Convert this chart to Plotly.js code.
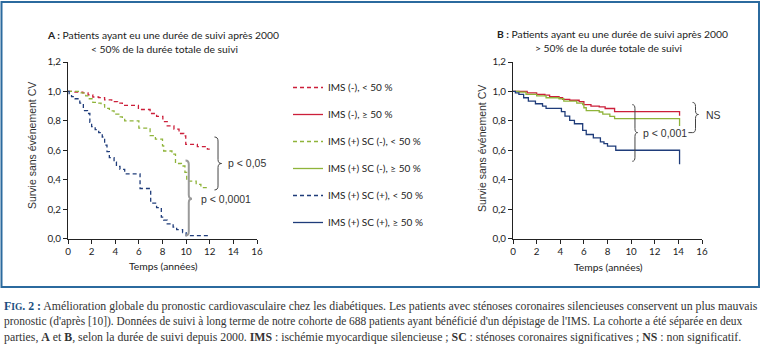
<!DOCTYPE html>
<html>
<head>
<meta charset="utf-8">
<script src="https://cdn.plot.ly/plotly-3.0.1.min.js"></script>
<style>html,body{margin:0;padding:0;background:#fff}#chart{width:762px;height:353px}</style>
</head>
<body>
<div id="chart"></div>
<script>
// ---------- DATA ----------
const seriesNames = ["IMS (-), < 50 %", "IMS (-), ≥ 50 %", "IMS (+) SC (-), < 50 %", "IMS (+) SC (-), ≥ 50 %", "IMS (+) SC (+), < 50 %", "IMS (+) SC (+), ≥ 50 %"];
const xTicks = [0, 2, 4, 6, 8, 10, 12, 14, 16];
const yTicks = [0, 0.2, 0.4, 0.6, 0.8, 1.0, 1.2];

// Panel A (< 50 %)
const redA_t = [0, 0.5, 1.25, 1.7, 2.1, 2.6, 3.1, 3.7, 4.2, 4.6, 5.96, 6.95, 7.5, 8.03, 8.4, 8.97, 9.4, 9.8, 9.97, 10.95, 11.8, 12.0];
const redA_s = [1.0, 0.995, 0.99, 0.977, 0.962, 0.958, 0.943, 0.93, 0.92, 0.905, 0.877, 0.85, 0.83, 0.795, 0.766, 0.743, 0.714, 0.698, 0.64, 0.625, 0.607, 0.607];
const greenA_t = [0, 0.96, 1.5, 1.7, 2.1, 2.5, 2.8, 3.1, 3.5, 3.9, 4.3, 4.6, 4.8, 6.0, 6.95, 7.4, 8.0, 8.1, 8.8, 9.1, 9.6, 9.9, 10.05, 10.85, 11.25, 12.0];
const greenA_s = [1.0, 0.99, 0.97, 0.95, 0.925, 0.92, 0.91, 0.885, 0.868, 0.845, 0.827, 0.815, 0.80, 0.75, 0.70, 0.675, 0.63, 0.595, 0.573, 0.51, 0.493, 0.45, 0.39, 0.368, 0.346, 0.346];
const blueA_t = [0, 0.1, 0.3, 0.6, 1.0, 1.3, 1.65, 1.85, 2.0, 2.3, 2.6, 2.9, 3.1, 3.3, 3.5, 3.9, 4.1, 4.4, 4.8, 6.1, 7.0, 7.5, 7.9, 8.1, 8.4, 8.9, 9.2, 9.7, 10.0, 12.0];
const blueA_s = [1.0, 0.98, 0.965, 0.95, 0.92, 0.87, 0.85, 0.79, 0.76, 0.74, 0.72, 0.69, 0.635, 0.59, 0.55, 0.52, 0.49, 0.47, 0.44, 0.34, 0.24, 0.21, 0.145, 0.125, 0.10, 0.077, 0.06, 0.04, 0.02, 0.02];

// Panel B (> 50 %)
const redB_t = [0, 1.2, 2.0, 2.7, 3.1, 3.9, 4.2, 4.8, 5.6, 6.0, 6.6, 7.3, 7.8, 8.6, 14.1, 14.1];
const redB_s = [1.0, 0.99, 0.98, 0.975, 0.965, 0.957, 0.946, 0.94, 0.93, 0.91, 0.90, 0.895, 0.884, 0.862, 0.862, 0.835];
const greenB_t = [0, 0.5, 1.1, 2.0, 2.8, 3.9, 4.3, 5.4, 5.9, 6.0, 6.2, 7.3, 7.6, 8.2, 8.6, 14.1, 14.1];
const greenB_s = [1.0, 0.995, 0.98, 0.97, 0.957, 0.95, 0.934, 0.92, 0.91, 0.889, 0.87, 0.86, 0.845, 0.83, 0.815, 0.815, 0.765];
const blueB_t = [0, 0.2, 0.5, 0.9, 1.3, 1.9, 2.5, 2.8, 4.1, 4.4, 4.8, 5.2, 5.9, 6.2, 6.8, 7.4, 7.7, 8.0, 8.7, 14.1, 14.1];
const blueB_s = [1.0, 0.99, 0.98, 0.957, 0.934, 0.916, 0.90, 0.885, 0.862, 0.832, 0.803, 0.78, 0.735, 0.707, 0.684, 0.657, 0.645, 0.628, 0.60, 0.60, 0.505];

// ---------- STYLE ----------
const RED = '#cc1f3a', GREEN = '#8fb43a', BLUE = '#1f3c7a';
const W = 762, H = 353;
const px = v => v / W;             // pixel -> paper x
const py = v => 1 - v / H;         // pixel -> paper y
const tickFont = {family: 'Lato, "Open Sans", sans-serif', size: 9.8, color: '#222'};
const sansFont = {family: '"Liberation Sans", Arial, sans-serif', size: 10.5, color: '#333'};

function tr(t, s, name, color, dash, xa, ya) {
  return {x: t, y: s, name: name, type: 'scatter', mode: 'lines',
    line: {color: color, width: 1.3, dash: dash, shape: 'hv'},
    xaxis: xa, yaxis: ya, legendgroup: name, hoverinfo: 'skip'};
}
const DASH = '4px,3px';
const data = [
  tr(redA_t, redA_s, seriesNames[0], RED, DASH, 'x', 'y'),
  tr(redB_t, redB_s, seriesNames[1], RED, 'solid', 'x2', 'y2'),
  tr(greenA_t, greenA_s, seriesNames[2], GREEN, DASH, 'x', 'y'),
  tr(greenB_t, greenB_s, seriesNames[3], GREEN, 'solid', 'x2', 'y2'),
  tr(blueA_t, blueA_s, seriesNames[4], BLUE, DASH, 'x', 'y'),
  tr(blueB_t, blueB_s, seriesNames[5], BLUE, 'solid', 'x2', 'y2')
];

function xAxis(d0, d1, anchor) {
  return {domain: [px(d0), px(d1)], range: [0, 16], tickvals: xTicks, ticks: 'outside', ticklen: 4,
    tickcolor: '#222', showline: true, linecolor: '#222', linewidth: 1, showgrid: false, zeroline: false,
    tickfont: tickFont, anchor: anchor, fixedrange: true};
}
function yAxis(anchor) {
  return {domain: [py(238.5), py(62)], range: [0, 1.2], tickvals: yTicks, tickformat: '.1f', ticks: 'outside',
    ticklen: 4, tickcolor: '#222', showline: true, linecolor: '#222', linewidth: 1, showgrid: false,
    zeroline: false, tickfont: tickFont, anchor: anchor, fixedrange: true};
}

// curly brace (pointing right) in data coordinates
const KY = 146.7; // px per y unit
function brace(xl, w, yt, yb, ym) {
  const r = 4 / KY, xm = xl + w / 2, xr = xl + w;
  return `M${xl},${yt} Q${xm},${yt} ${xm},${yt - r} L${xm},${ym + r} Q${xm},${ym} ${xr},${ym} ` +
         `Q${xm},${ym} ${xm},${ym - r} L${xm},${yb + r} Q${xm},${yb} ${xl},${yb}`;
}

const shapes = [
  {type: 'rect', xref: 'paper', yref: 'paper', x0: px(1.5), x1: px(759), y0: py(287), y1: py(2), line: {color: '#2b6a9e', width: 2}},
  {type: 'path', xref: 'x', yref: 'y', path: brace(12.4, 0.6, 0.69, 0.33, 0.51), line: {color: '#444', width: 1}},
  {type: 'path', xref: 'x', yref: 'y', path: brace(9.95, 0.55, 0.53, 0.02, 0.27), line: {color: '#9a9a9a', width: 2}},
  {type: 'path', xref: 'x2', yref: 'y2', path: brace(10.1, 0.45, 0.91, 0.525, 0.72), line: {color: '#444', width: 1}},
  {type: 'path', xref: 'x2', yref: 'y2', path: brace(15.2, 0.5, 0.925, 0.72, 0.843), line: {color: '#444', width: 1}},
  {type: 'line', xref: 'x2', yref: 'y2', x0: 14.85, x1: 15.2, y0: 0.72, y1: 0.72, line: {color: '#444', width: 1}}
];

const titleFont = {family: 'Lato, "Open Sans", sans-serif', size: 10.3, color: '#222'};
const capFont = {family: '"Liberation Serif", "Times New Roman", serif', size: 11.8, color: '#333'};
const capFont2 = Object.assign({}, capFont, {size: 11.45});
function ann(text, x, y, font, opts) {
  return Object.assign({text: text, x: x, y: y, xref: 'paper', yref: 'paper', showarrow: false, font: font,
    xanchor: 'center', yanchor: 'middle'}, opts || {});
}
const FIG = "<span style='color:#1b4f7e'><b>F<span style='font-size:9.5px'>IG</span>. 2 :</b></span>";
const annotations = [
  ann('<b>A :</b> Patients ayant eu une durée de suivi après 2000', px(163), py(35), titleFont),
  ann('< 50% de la durée totale de suivi', px(164), py(49.5), titleFont),
  ann('<b>B :</b> Patients ayant eu une durée de suivi après 2000', px(612), py(34), titleFont),
  ann('> 50% de la durée totale de suivi', px(608), py(48), titleFont),
  ann('Survie sans événement CV', px(32), py(146), sansFont, {textangle: -90}),
  ann('Survie sans événement CV', px(482), py(148), sansFont, {textangle: -90}),
  ann('Temps (années)', px(163), py(266), titleFont),
  ann('Temps (années)', px(608), py(267), titleFont),
  {text: 'p < 0,05', x: 13.35, y: 0.51, xref: 'x', yref: 'y', showarrow: false, font: sansFont, xanchor: 'left', yanchor: 'middle'},
  {text: 'p < 0,0001', x: 11.05, y: 0.27, xref: 'x', yref: 'y', showarrow: false, font: sansFont, xanchor: 'left', yanchor: 'middle'},
  {text: 'p < 0,001', x: 10.85, y: 0.72, xref: 'x2', yref: 'y2', showarrow: false, font: sansFont, xanchor: 'left', yanchor: 'middle'},
  ann('NS', px(704), py(115.5), sansFont, {xanchor: 'left'}),
  ann(FIG + ' Amélioration globale du pronostic cardiovasculaire chez les diabétiques. Les patients avec sténoses coronaires silencieuses conservent un plus mauvais', px(2), py(306), capFont, {xanchor: 'left'}),
  ann("pronostic (d'après [10]). Données de suivi à long terme de notre cohorte de 688 patients ayant bénéficié d'un dépistage de l'IMS. La cohorte a été séparée en deux", px(2), py(321.5), capFont2, {xanchor: 'left'}),
  ann('parties, <b>A</b> et <b>B</b>, selon la durée de suivi depuis 2000. <b>IMS</b> : ischémie myocardique silencieuse ; <b>SC</b> : sténoses coronaires significatives ; <b>NS</b> : non significatif.', px(2), py(337), capFont, {xanchor: 'left'})
];

const layout = {
  width: W, height: H, margin: {l: 0, r: 0, t: 0, b: 0},
  paper_bgcolor: '#ffffff', plot_bgcolor: 'rgba(0,0,0,0)',
  separators: ', ',
  showlegend: true,
  legend: {x: px(288), y: py(73), xanchor: 'left', yanchor: 'top', font: {family: 'Lato, "Open Sans", sans-serif', size: 10, color: '#222'},
    bgcolor: 'rgba(0,0,0,0)', borderwidth: 0, tracegroupgap: 8, itemwidth: 30, traceorder: 'grouped'},
  xaxis: xAxis(68, 257, 'y'), yaxis: yAxis('x'),
  xaxis2: xAxis(513, 702, 'y2'), yaxis2: yAxis('x2'),
  shapes: shapes, annotations: annotations
};

Plotly.newPlot('chart', data, layout, {staticPlot: true, displayModeBar: false});
</script>
</body>
</html>
